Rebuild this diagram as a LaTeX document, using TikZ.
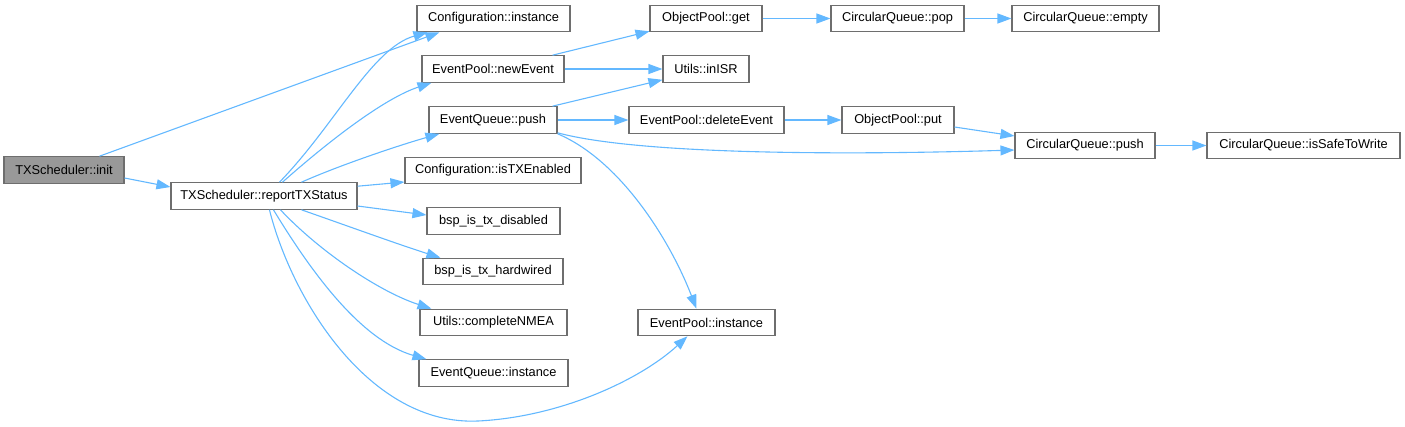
\documentclass[tikz,border=0pt]{standalone}
\usepackage{fontspec}
\setmainfont{Liberation Sans}
\usetikzlibrary{arrows.meta,calc}
\definecolor{edgeblue}{HTML}{63B8FF}
\definecolor{boxline}{HTML}{6E6E6E}
\definecolor{rootfill}{HTML}{999999}
\tikzset{
  fn/.style={draw=boxline, line width=1.1pt, fill=white, inner sep=0pt, minimum height=26.5pt,
     font=\fontsize{12.8}{14}\selectfont, text=black},
  rootfn/.style={fn, fill=rootfill},
  call/.style={draw=edgeblue, line width=1.1pt, -{Triangle[length=14pt,width=10pt]}},
}
\begin{document}
\begin{tikzpicture}[x=1pt,y=-1pt]
\path[use as bounding box] (0,0) rectangle (1405,426);
% nodes
\node[rootfn, minimum width=120] (init) at (64,170) {TXScheduler::init};
\node[fn, minimum width=186] (report) at (264,196) {TXScheduler::reportTXStatus};
\node[fn, minimum width=153] (cfg) at (493.5,18.5) {Configuration::instance};
\node[fn, minimum width=142] (newev) at (493,69) {EventPool::newEvent};
\node[fn, minimum width=128] (eqpush) at (493,120) {EventQueue::push};
\node[fn, minimum width=176] (istx) at (493,170.5) {Configuration::isTXEnabled};
\node[fn, minimum width=133] (bspd) at (493.5,221) {bsp\_is\_tx\_disabled};
\node[fn, minimum width=140] (bsph) at (493,271.5) {bsp\_is\_tx\_hardwired};
\node[fn, minimum width=147] (nmea) at (493.5,322.5) {Utils::completeNMEA};
\node[fn, minimum width=149] (eqinst) at (493.5,373) {EventQueue::instance};
\node[fn, minimum width=112] (opget) at (706,18.5) {ObjectPool::get};
\node[fn, minimum width=86] (inisr) at (706,69) {Utils::inISR};
\node[fn, minimum width=155] (delev) at (706.5,120) {EventPool::deleteEvent};
\node[fn, minimum width=137] (epinst) at (706.5,322.5) {EventPool::instance};
\node[fn, minimum width=133] (cqpop) at (897.5,18.5) {CircularQueue::pop};
\node[fn, minimum width=112] (opput) at (898,120) {ObjectPool::put};
\node[fn, minimum width=147] (cqempty) at (1085.5,18.5) {CircularQueue::empty};
\node[fn, minimum width=140] (cqpush) at (1085,145.5) {CircularQueue::push};
\node[fn, minimum width=193] (safe) at (1303.5,145.5) {CircularQueue::isSafeToWrite};
% edges
\draw[call] ($(init.north west)+(96,0)$) -- ($(cfg.south west)+(23,0)$);
\draw[call] ($(init.east)+(0,8)$) -- ($(report.west)+(0,-9)$);
\draw[call] ($(report.north west)+(109,0)$) .. controls (335,125) and (372,48) .. ($(cfg.south west)+(11,0)$);
\draw[call] ($(report.north west)+(112,0)$) .. controls (330,140) and (385,98) .. ($(newev.south west)+(10,0)$);
\draw[call] ($(report.north west)+(131,0)$) .. controls (340,165) and (400,145) .. ($(eqpush.south west)+(11,0)$);
\draw[call] ($(report.north east)+(0,4)$) -- ($(istx.west)+(0,11.5)$);
\draw[call] ($(report.east)+(0,10)$) -- ($(bspd.west)+(0,-6)$);
\draw[call] ($(report.south west)+(131,0)$) .. controls (345,225) and (400,245) .. ($(bsph.north west)+(18,0)$);
\draw[call] ($(report.south west)+(110,0)$) .. controls (320,252) and (380,292) .. ($(nmea.north west)+(12,0)$);
\draw[call] ($(report.south west)+(103,0)$) .. controls (310,270) and (360,340) .. ($(eqinst.north west)+(8,0)$);
\draw[call] ($(report.south west)+(99,0)$) .. controls (292,300) and (370,426) .. (478,421)
   .. controls (560,417) and (640,380) .. ($(epinst.south west)+(50,0)$);
\draw[call] ($(newev.north west)+(131,0)$) -- ($(opget.south west)+(0,-1)$);
\draw[call] (newev.east) -- (inisr.west);
\draw[call] ($(eqpush.north west)+(124,0)$) -- ($(inisr.south west)+(0,-3)$);
\draw[call] (eqpush.east) -- (delev.west);
\draw[call] ($(eqpush.south east)+(0,-1)$) .. controls (640,155) and (850,155) .. ($(cqpush.west)+(0,4.5)$);
\draw[call] (eqpush.south east) .. controls (620,160) and (670,240) .. ($(epinst.north west)+(59,0)$);
\draw[call] (opget.east) -- (cqpop.west);
\draw[call] (cqpop.east) -- (cqempty.west);
\draw[call] (delev.east) -- (opput.west);
\draw[call] ($(opput.east)+(0,7)$) -- ($(cqpush.west)+(0,-9.5)$);
\draw[call] (cqpush.east) -- (safe.west);
\end{tikzpicture}
\end{document}
